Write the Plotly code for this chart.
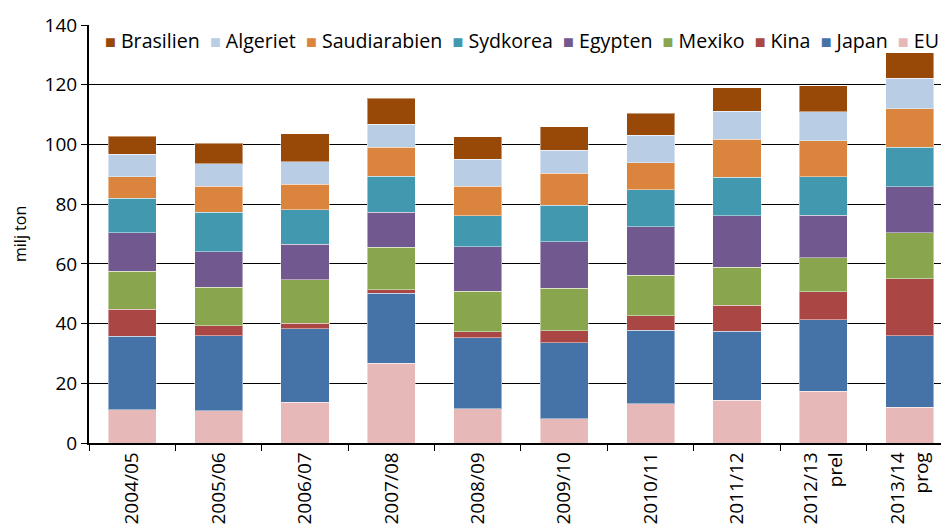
import plotly.graph_objects as go

categories = ["2004/05", "2005/06", "2006/07", "2007/08", "2008/09",
              "2009/10", "2010/11", "2011/12", "2012/13<br>prel", "2013/14<br>prog"]

eu = [11.1, 10.8, 13.6, 26.7, 11.4, 8.2, 13.1, 14.4, 17.3, 11.9]
japan = [24.6, 25.2, 24.6, 23.4, 23.9, 25.4, 24.7, 23.1, 24.0, 24.0]
kina = [9.1, 3.3, 1.9, 1.3, 1.9, 4.0, 4.9, 8.6, 9.3, 19.1]
mexiko = [12.8, 12.8, 14.5, 14.1, 13.6, 14.3, 13.5, 12.8, 11.5, 15.5]
egypten = [12.8, 11.9, 11.9, 11.8, 14.9, 15.5, 16.2, 17.2, 14.1, 15.4]
sydkorea = [11.6, 13.3, 11.7, 12.1, 10.4, 12.2, 12.5, 12.9, 12.9, 13.1]
saudiarabien = [7.2, 8.7, 8.4, 9.6, 9.9, 10.8, 9.0, 12.8, 12.2, 12.9]
algeriet = [7.5, 7.5, 7.6, 7.8, 9.0, 7.6, 9.1, 9.3, 9.6, 10.3]
brasilien = [6.1, 6.9, 9.4, 8.7, 7.6, 8.0, 7.4, 7.9, 8.7, 8.5]

series_names = ["EU", "Japan", "Kina", "Mexiko", "Egypten", "Sydkorea",
                "Saudiarabien", "Algeriet", "Brasilien"]
series_values = [eu, japan, kina, mexiko, egypten, sydkorea,
                 saudiarabien, algeriet, brasilien]
series_colors = ["#E6B9B8", "#4573A7", "#AA4643", "#89A54E", "#71588F",
                 "#4198AF", "#DB843D", "#B9CDE5", "#984807"]

FONT = "Open Sans"
NB = "\u00a0"

fig = go.Figure()
for name, vals, col in zip(series_names, series_values, series_colors):
    fig.add_trace(go.Bar(
        x=categories, y=vals, name=name,
        marker=dict(color=col, line=dict(color="rgba(255,255,255,0.45)", width=1)),
        showlegend=False,
    ))

# legend drawn as one text line (reversed order, like the reference)
legend_parts = []
for name, col in reversed(list(zip(series_names, series_colors))):
    legend_parts.append(
        f"<span style='color:{col};font-size:18px'>■</span>{NB}{name}")
legend_text = (NB * 2).join(legend_parts)

# the page body has an 8px margin, so the figure is sized to fit the window
fig.update_layout(
    width=941, height=518,
    margin=dict(l=81, r=0, t=17, b=83),
    barmode="stack",
    bargap=0.444,
    plot_bgcolor="white",
    paper_bgcolor="white",
    font=dict(family=FONT, size=19, color="black"),
    xaxis=dict(
        type="category",
        automargin=False,
        range=[-0.5, 9.454],
        tickangle=-90,
        tickson="boundaries",
        ticks="outside", ticklen=6, tickcolor="black", tickwidth=1,
        ticklabelstandoff=0,
        showline=True, linecolor="black", linewidth=1.5,
        showgrid=False,
        tickfont=dict(family=FONT, size=19, color="black"),
    ),
    yaxis=dict(
        automargin=False,
        range=[0, 140], dtick=20,
        ticks="outside", ticklen=6, tickcolor="black", tickwidth=1,
        showline=True, linecolor="black", linewidth=2,
        showgrid=True, gridcolor="black", gridwidth=1,
        zeroline=False,
        tickfont=dict(family=FONT, size=19, color="black"),
    ),
    annotations=[
        dict(text=legend_text, xref="paper", yref="paper",
             x=0.016, y=0.962, xanchor="left", yanchor="middle",
             showarrow=False, font=dict(family=FONT, size=19.6, color="black")),
        dict(text="milj ton", xref="paper", yref="paper",
             x=0, xshift=-69, y=0.5, xanchor="center", yanchor="middle",
             textangle=-90, showarrow=False,
             font=dict(family=FONT, size=16, color="black")),
    ],
)

fig.write_html("out.html")
